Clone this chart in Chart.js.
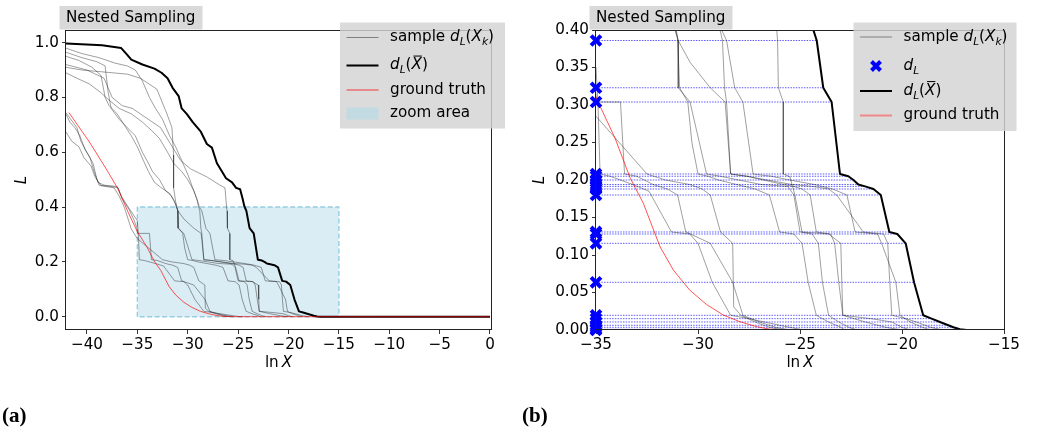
<!DOCTYPE html>
<html>
<head>
<meta charset="utf-8">
<script src="https://cdn.jsdelivr.net/npm/chart.js@4.4.1/dist/chart.umd.min.js"></script>
<style>
  body { margin: 0; background: #fff; width: 1046px; height: 435px; position: relative; overflow: hidden; }
  canvas { position: absolute; top: 0; }
</style>
</head>
<body>
<canvas id="chartA" width="520" height="435" style="left:0"></canvas>
<canvas id="chartB" width="526" height="435" style="left:520px"></canvas>
<script>
// likelihood levels d_L below 0.4 (blue markers) and where dL(Xbar) reaches them
const dL = [0.386, 0.323, 0.304, 0.208, 0.205, 0.200, 0.194, 0.1915, 0.188, 0.180,
            0.1307, 0.128, 0.1156, 0.0636, 0.0196, 0.0151, 0.0107, 0.0063, 0.0036, 0.0009, 0];
const dLend = [-24.18, -23.86, -23.45, -23.04, -22.63, -22.38, -22.14, -21.81, -21.4, -21.04,
               -20.62, -20.23, -19.82, -19.41, -18.96, -18.55, -18.14, -17.73, -17.48, -17.16, -16.83];

// mean curve dL(Xbar)
const meanX = [-42.1, -38.5, -36.6, -36.0, -35.6, -34.5, -33.3, -32.6, -32.0, -31.5, -30.9, -30.6,
               -30.1, -29.5, -28.7, -28.1, -27.6, -27.1, -26.6, -26.2, -25.6, -25.2, -24.8, -24.55,
               -24.38, -24.18, -23.86, -23.45, -23.04, -22.63, -22.38, -22.14, -21.81, -21.4, -21.04,
               -20.62, -20.23, -19.82, -19.41, -18.96, -18.55, -18.14, -17.73, -17.48, -17.16, -16.83, 0];
const meanY = [0.997, 0.99, 0.98, 0.955, 0.938, 0.92, 0.905, 0.89, 0.87, 0.835, 0.805, 0.76,
               0.74, 0.71, 0.675, 0.63, 0.617, 0.56, 0.53, 0.505, 0.49, 0.47, 0.465, 0.43,
               0.403, 0.386, 0.323, 0.304, 0.208, 0.205, 0.200, 0.194, 0.1915, 0.188, 0.180,
               0.1307, 0.128, 0.1156, 0.0636, 0.0196, 0.0151, 0.0107, 0.0063, 0.0036, 0.0009, 0, 0];

// ground truth
const truthX = [-41.8, -39.8, -38.1, -36.9, -35.9, -35.0, -34.07, -33.33, -32.68, -31.86, -31.21,
                -30.4, -29.58, -28.76, -27.94, -27.12, -26.47, -25.5, 0];
const truthY = [0.745, 0.64, 0.54, 0.465, 0.38, 0.31, 0.256, 0.203, 0.169, 0.111, 0.08,
                0.053, 0.034, 0.02, 0.011, 0.0044, 0.001, 0.0001, 0];

// sample curves d_L(X_k), [lnX, L]
const sample1 = [[-42.1,0.745],[-41.6,0.72],[-41.0,0.69],[-40.6,0.64],[-40.0,0.60],[-39.4,0.56],[-39.0,0.50],
  [-38.8,0.48],[-37.6,0.475],[-36.9,0.47],[-36.5,0.43],[-35.8,0.39],[-35.3,0.35],[-35.05,0.323],[-34.95,0.304],
  [-33.8,0.304],[-33.6,0.208],[-33.0,0.205],[-32.2,0.194],[-31.5,0.188],[-31.0,0.180],[-30.6,0.131],
  [-29.4,0.1156],[-28.3,0.0636],[-27.8,0.0196],[-27.0,0.0107],[-26.2,0.0036],[-25.5,0]];
const sample2 = [[-42.1,0.675],[-41.5,0.64],[-40.8,0.62],[-40.3,0.58],[-39.6,0.55],[-39.2,0.51],[-38.6,0.478],
  [-37.3,0.47],[-36.8,0.44],[-36.3,0.40],[-35.6,0.32],[-35.0,0.285],[-33.7,0.245],[-32.5,0.208],[-31.6,0.200],
  [-30.4,0.194],[-29.8,0.188],[-29.4,0.180],[-28.9,0.131],[-28.3,0.1156],[-28.25,0.031],[-27.9,0.0196],
  [-27.2,0.0107],[-26.5,0.0036],[-25.8,0]];
const sample3 = [[-42.1,0.74],[-41.7,0.71],[-41.2,0.69],[-40.7,0.66],[-40.2,0.61],[-39.7,0.58],[-39.3,0.53],
  [-38.9,0.49],[-38.3,0.48],[-37.0,0.475],[-36.6,0.44],[-35.9,0.40],[-35.0,0.35],[-34.9,0.30],[-34.8,0.208],
  [-34.3,0.205],[-33.2,0.194],[-32.4,0.185],[-31.3,0.1307],[-30.4,0.128],[-30.0,0.1156],[-29.3,0.0636],
  [-28.4,0.0196],[-27.5,0.0151],[-26.0,0.0063],[-25.0,0.0009],[-24.5,0]];
const sample4 = [[-42.1,0.965],[-40.5,0.945],[-39.0,0.93],[-38.2,0.915],[-37.9,0.82],[-37.6,0.76],[-36.8,0.72],
  [-36.0,0.69],[-35.2,0.66],[-34.5,0.60],[-33.9,0.56],[-33.5,0.53],[-32.8,0.50],[-32.2,0.46],[-31.6,0.44],
  [-31.2,0.41],[-31.13,0.40],[-30.97,0.386],[-30.97,0.323],[-30.39,0.304],[-29.58,0.208],[-28.9,0.205],
  [-28.0,0.200],[-26.9,0.194],[-25.6,0.1915],[-25.3,0.180],[-25.0,0.1307],[-24.4,0.128],[-24.1,0.1156],
  [-23.9,0.0636],[-23.6,0.0196],[-23.1,0.0107],[-22.6,0.0036],[-22.2,0]];
const sample5 = [[-42.1,0.95],[-40.8,0.935],[-39.5,0.91],[-38.6,0.88],[-38.2,0.80],[-37.8,0.77],[-37.0,0.74],
  [-36.3,0.70],[-35.6,0.66],[-35.0,0.62],[-34.4,0.57],[-33.9,0.53],[-33.3,0.49],[-32.6,0.47],[-31.8,0.45],
  [-31.3,0.42],[-30.97,0.386],[-30.39,0.357],[-29.4,0.323],[-28.67,0.304],[-28.4,0.208],[-27.6,0.205],
  [-26.8,0.200],[-25.8,0.194],[-25.3,0.1915],[-24.9,0.188],[-24.5,0.180],[-24.2,0.1307],[-23.5,0.128],
  [-23.3,0.1156],[-23.1,0.0636],[-22.9,0.0196],[-21.8,0.0107],[-20.8,0.0036],[-20.0,0]];
const sample6 = [[-42.1,0.91],[-40.5,0.90],[-39.0,0.895],[-37.5,0.89],[-36.0,0.885],[-34.7,0.87],[-33.06,0.83],
  [-32.06,0.74],[-31.57,0.69],[-31.4,0.59],[-31.4,0.47],[-31.2,0.42],[-31.0,0.39],[-30.9,0.323],[-30.5,0.304],
  [-30.3,0.25],[-30.0,0.208],[-29.5,0.205],[-29.0,0.200],[-28.1,0.194],[-27.2,0.188],[-26.5,0.180],
  [-26.0,0.1307],[-25.3,0.128],[-24.9,0.1156],[-24.6,0.0636],[-24.2,0.0196],[-23.6,0.0107],[-23.0,0.0036],[-22.8,0]];
const sample7 = [[-42.1,0.98],[-40.5,0.96],[-38.8,0.945],[-37.2,0.925],[-36.0,0.915],[-35.2,0.90],[-34.5,0.86],
  [-33.8,0.80],[-33.2,0.76],[-32.5,0.72],[-31.8,0.66],[-31.2,0.62],[-30.6,0.57],[-30.0,0.52],[-29.5,0.47],
  [-29.1,0.43],[-28.92,0.40],[-28.8,0.386],[-28.7,0.323],[-28.6,0.304],[-28.4,0.208],[-27.6,0.205],
  [-26.6,0.200],[-25.4,0.194],[-24.4,0.1915],[-23.6,0.188],[-23.2,0.180],[-21.9,0.1307],[-20.9,0.128],
  [-20.7,0.1156],[-20.6,0.0636],[-20.5,0.0196],[-19.8,0.0151],[-19.3,0.0107],[-18.6,0.0036],[-18.0,0]];
const sample8 = [[-42.1,0.89],[-41.0,0.87],[-39.8,0.85],[-38.7,0.82],[-37.8,0.79],[-36.8,0.76],[-35.6,0.74],
  [-34.5,0.71],[-33.6,0.68],[-32.8,0.65],[-32.0,0.60],[-31.4,0.56],[-30.6,0.53],[-30.0,0.50],[-29.4,0.46],
  [-29.0,0.42],[-28.84,0.40],[-28.6,0.386],[-28.2,0.323],[-27.8,0.304],[-27.3,0.208],[-26.4,0.205],
  [-25.5,0.200],[-24.3,0.194],[-23.4,0.188],[-22.7,0.180],[-22.3,0.1307],[-21.2,0.128],[-21.0,0.1156],
  [-20.3,0.0636],[-20.1,0.0196],[-19.6,0.0107],[-19.0,0.0036],[-18.6,0]];
const sample9 = [[-42.1,0.92],[-40.0,0.90],[-38.3,0.87],[-37.5,0.80],[-36.5,0.77],[-35.5,0.76],[-34.7,0.74],
  [-32.7,0.69],[-31.7,0.63],[-30.7,0.57],[-29.75,0.54],[-28.1,0.51],[-26.8,0.48],[-26.3,0.47],[-26.14,0.40],
  [-26.1,0.386],[-26.06,0.323],[-25.82,0.304],[-25.82,0.208],[-25.5,0.2045],[-25.25,0.180],[-24.9,0.1307],
  [-23.6,0.128],[-23.0,0.1156],[-22.95,0.0636],[-22.9,0.0196],[-21.5,0.0151],[-20.5,0.0107],[-20.0,0.0036],[-19.6,0]];
const samples = [sample1, sample2, sample3, sample4, sample5, sample6, sample7, sample8, sample9];

// zoom area of panel (a)
const zoomX = [-35, -15];
const zoomY = [0, 0.4];

// ticks
const xTicksA = [-40, -35, -30, -25, -20, -15, -10, -5, 0];
const xLabelsA = ['\u221240', '\u221235', '\u221230', '\u221225', '\u221220', '\u221215', '\u221210', '\u22125', '0'];
const yTicksA = [0, 0.2, 0.4, 0.6, 0.8, 1.0];
const yLabelsA = ['0.0', '0.2', '0.4', '0.6', '0.8', '1.0'];
const xTicksB = [-35, -30, -25, -20, -15];
const xLabelsB = ['\u221235', '\u221230', '\u221225', '\u221220', '\u221215'];
const yTicksB = [0, 0.05, 0.1, 0.15, 0.2, 0.25, 0.3, 0.35, 0.4];
const yLabelsB = ['0.00', '0.05', '0.10', '0.15', '0.20', '0.25', '0.30', '0.35', '0.40'];

const FONT = '"DejaVu Sans"';
const FS = 15.2;
const toPts = arr => arr.map(p => ({ x: p[0], y: p[1] }));
const line = (data, color, width, order, extra) => Object.assign({
  data, borderColor: color, borderWidth: width, showLine: true, pointRadius: 0,
  borderJoinStyle: 'round', order
}, extra || {});

function curveSets() {
  const ds = samples.map(s => line(toPts(s), 'rgba(0,0,0,0.42)', 0.9, 3));
  ds.push(line(meanX.map((x, i) => ({ x, y: meanY[i] })), '#000', 2, 1));
  ds.push(line(truthX.map((x, i) => ({ x, y: truthY[i] })), 'rgba(255,0,0,0.75)', 0.9, 0));
  return ds;
}

// mixed italic / subscript text like matplotlib mathtext
function drawRuns(ctx, x, y, runs, size) {
  ctx.textBaseline = 'middle';
  ctx.textAlign = 'left';
  ctx.fillStyle = '#000';
  runs.forEach(r => {
    const fs = r.sub ? size * 0.7 : size;
    ctx.font = (r.it ? 'italic ' : '') + fs + 'px ' + FONT;
    const w = ctx.measureText(r.t).width;
    ctx.fillText(r.t, x, y + (r.sub ? size * 0.32 : 0));
    if (r.bar) {
      ctx.strokeStyle = '#000'; ctx.lineWidth = 1;
      ctx.beginPath(); ctx.moveTo(x + 2, y - size * 0.62); ctx.lineTo(x + w, y - size * 0.62); ctx.stroke();
    }
    x += w;
  });
}
const sampleLabel = [{ t: 'sample ' }, { t: 'd', it: 1 }, { t: 'L', it: 1, sub: 1 }, { t: '(' }, { t: 'X', it: 1 }, { t: 'k', it: 1, sub: 1 }, { t: ')' }];
const meanLabel = [{ t: 'd', it: 1 }, { t: 'L', it: 1, sub: 1 }, { t: '(' }, { t: 'X', it: 1, bar: 1 }, { t: ')' }];
const dLLabel = [{ t: 'd', it: 1 }, { t: 'L', it: 1, sub: 1 }];

function drawX(ctx, x, y) {
  ctx.strokeStyle = 'blue'; ctx.lineWidth = 4; ctx.lineCap = 'butt';
  const r = 4.5;
  ctx.beginPath();
  ctx.moveTo(x - r, y - r); ctx.lineTo(x + r, y + r);
  ctx.moveTo(x + r, y - r); ctx.lineTo(x - r, y + r);
  ctx.stroke();
}

function decor(opts) {
  return {
    id: 'decor',
    afterDraw(chart) {
      const ctx = chart.ctx, a = chart.chartArea;
      ctx.save();
      // frame
      ctx.strokeStyle = '#222'; ctx.lineWidth = 1;
      ctx.strokeRect(Math.round(a.left) - 0.5, Math.round(a.top) + 0.5,
        Math.round(a.right - a.left) + 1, Math.round(a.bottom - a.top) - 1);
      // title box
      ctx.fillStyle = '#d9d9d9';
      ctx.fillRect(a.left - 6.5, 6, 143, 23.5);
      ctx.fillStyle = '#000';
      ctx.font = FS + 'px ' + FONT; ctx.textBaseline = 'middle'; ctx.textAlign = 'left';
      ctx.fillText('Nested Sampling', a.left, 18);
      // axis labels
      const cx = (a.left + a.right) / 2;
      ctx.font = FS + 'px ' + FONT;
      const w1 = ctx.measureText('ln').width;
      ctx.font = 'italic ' + FS + 'px ' + FONT;
      const w2 = ctx.measureText('X').width;
      const sx = cx - (w1 + 3 + w2) / 2;
      ctx.font = FS + 'px ' + FONT; ctx.fillText('ln', sx, 363);
      ctx.font = 'italic ' + FS + 'px ' + FONT; ctx.fillText('X', sx + w1 + 3, 363);
      ctx.save();
      ctx.translate(opts.yLabelX, (a.top + a.bottom) / 2);
      ctx.rotate(-Math.PI / 2);
      ctx.textAlign = 'center';
      ctx.fillText('L', 0, 0);
      ctx.restore();
      // panel letter
      ctx.font = 'bold 21px "Liberation Serif"'; ctx.textAlign = 'left';
      ctx.fillText(opts.letter, 2, 417);
      // legend
      const L = opts.legend;
      ctx.fillStyle = 'rgba(211,211,211,0.82)';
      ctx.fillRect(L.x, L.y, L.w, L.h);
      L.items.forEach(it => {
        const x0 = L.x + 6.5, x1 = L.x + 38.5;
        if (it.kind === 'line') {
          ctx.strokeStyle = it.color; ctx.lineWidth = it.width; ctx.lineCap = 'butt';
          ctx.beginPath(); ctx.moveTo(x0, it.y); ctx.lineTo(x1, it.y); ctx.stroke();
        } else if (it.kind === 'patch') {
          ctx.fillStyle = 'rgba(173,216,230,0.55)';
          ctx.fillRect(x0, it.y - 6, x1 - x0, 12);
        } else if (it.kind === 'marker') {
          drawX(ctx, (x0 + x1) / 2, it.y);
        }
        drawRuns(ctx, L.x + 50, it.y, it.label, FS);
      });
      ctx.restore();
    }
  };
}

function makeOptions(xr, yr, xt, xl, yt, yl, yWidth, padRight) {
  return {
    responsive: false,
    animation: false,
    events: [],
    layout: { padding: { left: 0, right: padRight, top: 30, bottom: 75 } },
    plugins: { legend: { display: false }, tooltip: { enabled: false } },
    scales: {
      x: {
        type: 'linear', min: xr[0], max: xr[1],
        afterBuildTicks: s => { s.ticks = xt.map(v => ({ value: v })); },
        afterFit: s => { s.height = 30; },
        grid: { drawOnChartArea: false, drawTicks: true, tickLength: 4, color: '#000', lineWidth: 0.8 },
        border: { display: false },
        ticks: { autoSkip: false, maxRotation: 0, padding: 2, color: '#000',
                 font: { family: 'DejaVu Sans', size: FS }, callback: (v, i) => xl[i] }
      },
      y: {
        type: 'linear', min: yr[0], max: yr[1],
        afterBuildTicks: s => { s.ticks = yt.map(v => ({ value: v })); },
        afterFit: s => { s.width = yWidth; },
        grid: { drawOnChartArea: false, drawTicks: true, tickLength: 4, color: '#000', lineWidth: 0.8 },
        border: { display: false },
        ticks: { autoSkip: false, padding: 3, color: '#000',
                 font: { family: 'DejaVu Sans', size: FS }, callback: (v, i) => yl[i] }
      }
    }
  };
}

// panel (a)
const setsA = curveSets();
setsA.push(line([{ x: zoomX[0], y: zoomY[1] }, { x: zoomX[1], y: zoomY[1] }], 'rgba(0,0,0,0)', 0, 6,
  { fill: 'origin', backgroundColor: 'rgba(173,216,230,0.45)' }));
setsA.push(line([{ x: zoomX[0], y: zoomY[0] }, { x: zoomX[0], y: zoomY[1] }, { x: zoomX[1], y: zoomY[1] },
  { x: zoomX[1], y: zoomY[0] }, { x: zoomX[0], y: zoomY[0] }], 'rgba(150,205,225,1)', 1.4, 5,
  { borderDash: [5, 2.5] }));

new Chart(document.getElementById('chartA'), {
  type: 'scatter',
  data: { datasets: setsA },
  options: makeOptions([-42.08, 0.1], [-0.0485, 1.046], xTicksA, xLabelsA, yTicksA, yLabelsA, 66, 29),
  plugins: [decor({
    letter: '(a)', yLabelX: 22,
    legend: { x: 340, y: 22.5, w: 165, h: 106, items: [
      { kind: 'line', y: 37.5, color: 'rgba(0,0,0,0.42)', width: 1, label: sampleLabel },
      { kind: 'line', y: 65.5, color: '#000', width: 2, label: meanLabel },
      { kind: 'line', y: 90, color: 'rgba(255,0,0,0.75)', width: 1, label: [{ t: 'ground truth' }] },
      { kind: 'patch', y: 113.5, label: [{ t: 'zoom area' }] }
    ] }
  })]
});

// panel (b)
const setsB = curveSets();
dL.forEach((v, i) => {
  setsB.push(line([{ x: -35, y: v }, { x: dLend[i], y: v }], 'rgba(0,0,255,0.8)', 0.8, 4,
    { borderDash: [1.5, 1.2] }));
});
setsB.push({
  data: dL.map(v => ({ x: -35, y: v })), showLine: false, pointStyle: 'crossRot',
  pointRadius: 7, pointBorderWidth: 4, pointBorderColor: 'blue', pointBackgroundColor: 'blue',
  borderColor: 'blue', clip: false, order: -1
});

new Chart(document.getElementById('chartB'), {
  type: 'scatter',
  data: { datasets: setsB },
  options: makeOptions([-35, -15], [0, 0.4], xTicksB, xLabelsB, yTicksB, yLabelsB, 76, 42),
  plugins: [decor({
    letter: '(b)', yLabelX: 20,
    legend: { x: 333.5, y: 22.5, w: 163, h: 108.5, items: [
      { kind: 'line', y: 37, color: 'rgba(0,0,0,0.42)', width: 1, label: sampleLabel },
      { kind: 'marker', y: 66, label: dLLabel },
      { kind: 'line', y: 91, color: '#000', width: 2, label: meanLabel },
      { kind: 'line', y: 115.5, color: 'rgba(255,80,80,0.6)', width: 2, label: [{ t: 'ground truth' }] }
    ] }
  })]
});
</script>
</body>
</html>
